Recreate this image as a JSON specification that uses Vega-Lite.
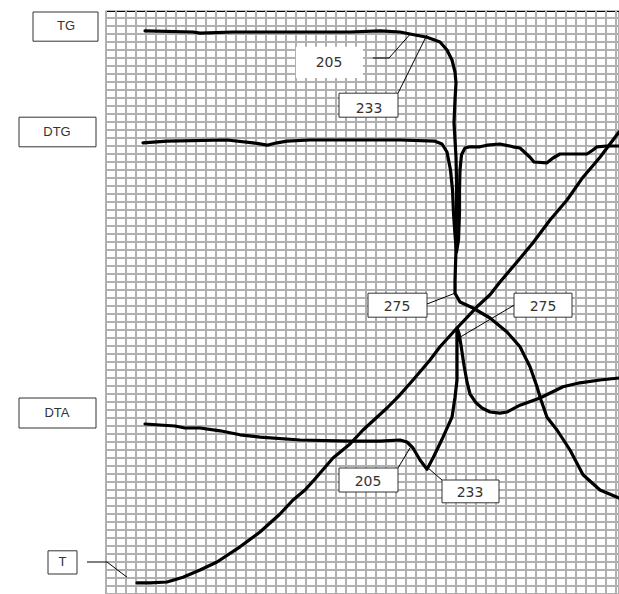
{
  "$schema": "https://vega.github.io/schema/vega-lite/v6.json",
  "width": 513,
  "height": 583,
  "autosize": {"type": "none"},
  "padding": {"left": 106, "top": 11, "right": 0, "bottom": 0},
  "background": "white",
  "config": {"view": {"stroke": "black", "strokeWidth": 1.2}},
  "datasets": {
    "gridx": [{"v":0},{"v":1},{"v":2},{"v":3},{"v":4},{"v":5},{"v":6},{"v":7},{"v":8},{"v":9},{"v":10},{"v":11},{"v":12},{"v":13},{"v":14},{"v":15},{"v":16},{"v":17},{"v":18},{"v":19},{"v":20},{"v":21},{"v":22},{"v":23},{"v":24},{"v":25},{"v":26},{"v":27},{"v":28},{"v":29},{"v":30},{"v":31},{"v":32},{"v":33},{"v":34},{"v":35},{"v":36},{"v":37},{"v":38},{"v":39},{"v":40},{"v":41},{"v":42},{"v":43},{"v":44},{"v":45},{"v":46},{"v":47},{"v":48},{"v":49},{"v":50},{"v":51}],
    "gridy": [{"v":0},{"v":1},{"v":2},{"v":3},{"v":4},{"v":5},{"v":6},{"v":7},{"v":8},{"v":9},{"v":10},{"v":11},{"v":12},{"v":13},{"v":14},{"v":15},{"v":16},{"v":17},{"v":18},{"v":19},{"v":20},{"v":21},{"v":22},{"v":23},{"v":24},{"v":25},{"v":26},{"v":27},{"v":28},{"v":29},{"v":30},{"v":31},{"v":32},{"v":33},{"v":34},{"v":35},{"v":36},{"v":37},{"v":38},{"v":39},{"v":40},{"v":41},{"v":42},{"v":43},{"v":44},{"v":45},{"v":46},{"v":47},{"v":48},{"v":49},{"v":50},{"v":51},{"v":52},{"v":53},{"v":54},{"v":55},{"v":56},{"v":57},{"v":58},{"v":59},{"v":60},{"v":61},{"v":62},{"v":63},{"v":64},{"v":65},{"v":66},{"v":67},{"v":68},{"v":69},{"v":70},{"v":71},{"v":72}],
    "curves": [
      {"s":"TG","i":0,"x":3.9,"y":70.4},{"s":"TG","i":1,"x":8.7,"y":70.25},{"s":"TG","i":2,"x":9.4,"y":70.1},{"s":"TG","i":3,"x":12.7,"y":70.25},{"s":"TG","i":4,"x":20.4,"y":70.25},{"s":"TG","i":5,"x":24.4,"y":70.25},{"s":"TG","i":6,"x":27.4,"y":70.4},{"s":"TG","i":7,"x":29.4,"y":70.25},{"s":"TG","i":8,"x":30.4,"y":70.0},{"s":"TG","i":9,"x":32.1,"y":69.6},{"s":"TG","i":10,"x":33.4,"y":69.0},{"s":"TG","i":11,"x":34.1,"y":68.0},{"s":"TG","i":12,"x":34.6,"y":66.75},{"s":"TG","i":13,"x":34.9,"y":65.25},{"s":"TG","i":14,"x":35.0,"y":63.9},{"s":"TG","i":15,"x":34.9,"y":61.75},{"s":"TG","i":16,"x":34.8,"y":58.9},{"s":"TG","i":17,"x":34.9,"y":56.75},{"s":"TG","i":18,"x":35.0,"y":54.6},{"s":"TG","i":19,"x":35.05,"y":51.75},{"s":"TG","i":20,"x":35.05,"y":48.0},{"s":"TG","i":21,"x":35.0,"y":43.0},{"s":"TG","i":22,"x":34.9,"y":39.25},{"s":"TG","i":23,"x":34.9,"y":37.6},{"s":"TG","i":24,"x":35.4,"y":36.5},{"s":"TG","i":25,"x":36.7,"y":35.75},{"s":"TG","i":26,"x":38.4,"y":34.5},{"s":"TG","i":27,"x":40.1,"y":32.75},{"s":"TG","i":28,"x":41.4,"y":30.9},{"s":"TG","i":29,"x":42.4,"y":28.4},{"s":"TG","i":30,"x":43.1,"y":25.9},{"s":"TG","i":31,"x":43.5,"y":24.25},{"s":"TG","i":32,"x":44.1,"y":22.1},{"s":"TG","i":33,"x":45.1,"y":20.5},{"s":"TG","i":34,"x":46.4,"y":18.0},{"s":"TG","i":35,"x":47.7,"y":14.9},{"s":"TG","i":36,"x":49.4,"y":13.0},{"s":"TG","i":37,"x":51.3,"y":12.0},
      {"s":"DTG","i":0,"x":3.7,"y":56.4},{"s":"DTG","i":1,"x":6.1,"y":56.6},{"s":"DTG","i":2,"x":12.1,"y":56.75},{"s":"DTG","i":3,"x":14.7,"y":56.4},{"s":"DTG","i":4,"x":16.1,"y":56.1},{"s":"DTG","i":5,"x":17.1,"y":56.4},{"s":"DTG","i":6,"x":18.1,"y":56.6},{"s":"DTG","i":7,"x":20.4,"y":56.75},{"s":"DTG","i":8,"x":29.4,"y":56.75},{"s":"DTG","i":9,"x":32.9,"y":56.6},{"s":"DTG","i":10,"x":33.6,"y":56.25},{"s":"DTG","i":11,"x":34.1,"y":55.25},{"s":"DTG","i":12,"x":34.45,"y":53.0},{"s":"DTG","i":13,"x":34.65,"y":50.5},{"s":"DTG","i":14,"x":34.75,"y":47.6},{"s":"DTG","i":15,"x":34.9,"y":44.9},{"s":"DTG","i":16,"x":35.05,"y":42.75},{"s":"DTG","i":17,"x":35.25,"y":44.25},{"s":"DTG","i":18,"x":35.35,"y":47.6},{"s":"DTG","i":19,"x":35.35,"y":50.5},{"s":"DTG","i":20,"x":35.4,"y":53.0},{"s":"DTG","i":21,"x":35.55,"y":54.9},{"s":"DTG","i":22,"x":35.9,"y":55.75},{"s":"DTG","i":23,"x":36.4,"y":55.9},{"s":"DTG","i":24,"x":37.4,"y":55.9},{"s":"DTG","i":25,"x":38.1,"y":56.1},{"s":"DTG","i":26,"x":39.4,"y":56.25},{"s":"DTG","i":27,"x":40.7,"y":55.9},{"s":"DTG","i":28,"x":41.4,"y":55.75},{"s":"DTG","i":29,"x":42.4,"y":54.6},{"s":"DTG","i":30,"x":42.8,"y":54.0},{"s":"DTG","i":31,"x":44.1,"y":53.9},{"s":"DTG","i":32,"x":44.7,"y":54.5},{"s":"DTG","i":33,"x":45.4,"y":55.0},{"s":"DTG","i":34,"x":48.1,"y":55.0},{"s":"DTG","i":35,"x":48.7,"y":55.5},{"s":"DTG","i":36,"x":49.1,"y":55.9},{"s":"DTG","i":37,"x":50.1,"y":56.0},{"s":"DTG","i":38,"x":51.3,"y":56.0},
      {"s":"DTA","i":0,"x":3.9,"y":21.25},{"s":"DTA","i":1,"x":6.9,"y":21.0},{"s":"DTA","i":2,"x":7.9,"y":20.75},{"s":"DTA","i":3,"x":9.4,"y":20.75},{"s":"DTA","i":4,"x":11.4,"y":20.4},{"s":"DTA","i":5,"x":13.4,"y":19.9},{"s":"DTA","i":6,"x":15.4,"y":19.6},{"s":"DTA","i":7,"x":19.4,"y":19.25},{"s":"DTA","i":8,"x":24.4,"y":19.1},{"s":"DTA","i":9,"x":27.4,"y":19.1},{"s":"DTA","i":10,"x":29.4,"y":19.25},{"s":"DTA","i":11,"x":30.1,"y":19.0},{"s":"DTA","i":12,"x":30.7,"y":18.25},{"s":"DTA","i":13,"x":31.4,"y":16.75},{"s":"DTA","i":14,"x":32.1,"y":15.6},{"s":"DTA","i":15,"x":32.7,"y":17.0},{"s":"DTA","i":16,"x":33.7,"y":19.6},{"s":"DTA","i":17,"x":34.6,"y":22.1},{"s":"DTA","i":18,"x":34.9,"y":24.6},{"s":"DTA","i":19,"x":35.1,"y":26.75},{"s":"DTA","i":20,"x":35.1,"y":30.5},{"s":"DTA","i":21,"x":35.1,"y":33.25},{"s":"DTA","i":22,"x":35.3,"y":32.6},{"s":"DTA","i":23,"x":35.5,"y":31.1},{"s":"DTA","i":24,"x":35.8,"y":28.6},{"s":"DTA","i":25,"x":36.1,"y":26.5},{"s":"DTA","i":26,"x":36.4,"y":25.0},{"s":"DTA","i":27,"x":37.0,"y":23.9},{"s":"DTA","i":28,"x":37.6,"y":23.25},{"s":"DTA","i":29,"x":38.4,"y":22.75},{"s":"DTA","i":30,"x":39.4,"y":22.6},{"s":"DTA","i":31,"x":40.1,"y":22.75},{"s":"DTA","i":32,"x":41.4,"y":23.6},{"s":"DTA","i":33,"x":43.4,"y":24.5},{"s":"DTA","i":34,"x":45.7,"y":25.9},{"s":"DTA","i":35,"x":47.4,"y":26.4},{"s":"DTA","i":36,"x":49.4,"y":26.75},{"s":"DTA","i":37,"x":51.3,"y":27.0},
      {"s":"T","i":0,"x":3.1,"y":1.4},{"s":"T","i":1,"x":4.4,"y":1.4},{"s":"T","i":2,"x":6.1,"y":1.5},{"s":"T","i":3,"x":7.7,"y":2.1},{"s":"T","i":4,"x":9.4,"y":3.0},{"s":"T","i":5,"x":11.1,"y":4.0},{"s":"T","i":6,"x":13.4,"y":5.9},{"s":"T","i":7,"x":15.4,"y":7.75},{"s":"T","i":8,"x":17.4,"y":10.0},{"s":"T","i":9,"x":18.7,"y":11.75},{"s":"T","i":10,"x":19.9,"y":13.0},{"s":"T","i":11,"x":20.7,"y":14.1},{"s":"T","i":12,"x":22.7,"y":17.0},{"s":"T","i":13,"x":24.4,"y":18.75},{"s":"T","i":14,"x":25.7,"y":20.5},{"s":"T","i":15,"x":28.1,"y":23.25},{"s":"T","i":16,"x":29.4,"y":24.9},{"s":"T","i":17,"x":30.7,"y":26.75},{"s":"T","i":18,"x":32.4,"y":29.25},{"s":"T","i":19,"x":33.4,"y":30.9},{"s":"T","i":20,"x":35.1,"y":33.25},{"s":"T","i":21,"x":37.1,"y":35.9},{"s":"T","i":22,"x":38.4,"y":37.4},{"s":"T","i":23,"x":39.4,"y":39.0},{"s":"T","i":24,"x":41.1,"y":41.5},{"s":"T","i":25,"x":42.7,"y":43.9},{"s":"T","i":26,"x":44.4,"y":46.75},{"s":"T","i":27,"x":46.1,"y":49.25},{"s":"T","i":28,"x":47.7,"y":52.1},{"s":"T","i":29,"x":49.4,"y":54.6},{"s":"T","i":30,"x":51.3,"y":57.75}
    ],
    "leaders": [
      {"id":"T","i":0,"x":-1.9,"y":4.0},{"id":"T","i":1,"x":0.1,"y":4.0},{"id":"T","i":2,"x":2.1,"y":2.1},
      {"id":"a205","i":0,"x":26.7,"y":67.0},{"id":"a205","i":1,"x":28.3,"y":67.0},{"id":"a205","i":2,"x":30.5,"y":70.1},
      {"id":"a233","i":0,"x":29.2,"y":62.6},{"id":"a233","i":1,"x":32.1,"y":69.9},
      {"id":"b275","i":0,"x":32.1,"y":36.25},{"id":"b275","i":1,"x":34.9,"y":37.6},
      {"id":"c275","i":0,"x":40.8,"y":36.1},{"id":"c275","i":1,"x":35.4,"y":32.1},
      {"id":"d205","i":0,"x":29.2,"y":15.75},{"id":"d205","i":1,"x":30.4,"y":18.25},
      {"id":"e233","i":0,"x":33.6,"y":14.25},{"id":"e233","i":1,"x":32.2,"y":15.75}
    ],
    "boxes": [
      {"x":-7.3,"x2":-0.8,"y":69.1,"y2":72.75},
      {"x":-8.7,"x2":-1.0,"y":55.9,"y2":59.6},
      {"x":-8.7,"x2":-1.0,"y":20.75,"y2":24.5},
      {"x":-5.8,"x2":-2.9,"y":2.5,"y2":5.4},
      {"x":23.3,"x2":29.2,"y":59.6,"y2":62.6},
      {"x":26.2,"x2":32.1,"y":34.6,"y2":37.6},
      {"x":40.8,"x2":46.6,"y":34.6,"y2":37.6},
      {"x":23.3,"x2":29.2,"y":12.75,"y2":15.75},
      {"x":33.6,"x2":39.3,"y":11.4,"y2":14.25}
    ],
    "whitebox": [
      {"x":19.0,"x2":25.7,"y":64.5,"y2":68.4}
    ],
    "names": [
      {"t":"TG","x":-4.0,"y":71.0},
      {"t":"DTG","x":-4.9,"y":57.75},
      {"t":"DTA","x":-4.9,"y":22.6},
      {"t":"T","x":-4.35,"y":3.95}
    ],
    "temps": [
      {"t":"205","x":22.3,"y":66.4},
      {"t":"233","x":26.3,"y":60.6},
      {"t":"275","x":29.1,"y":35.9},
      {"t":"275","x":43.7,"y":35.9},
      {"t":"205","x":26.2,"y":14.0},
      {"t":"233","x":36.4,"y":12.6}
    ]
  },
  "layer": [
    {
      "data": {"name": "gridx"},
      "mark": {"type": "rule", "color": "#b0b0b0", "strokeWidth": 2},
      "encoding": {
        "x": {"field": "v", "type": "quantitative", "scale": {"domain": [0, 51.3], "nice": false, "zero": false}, "axis": null}
      }
    },
    {
      "data": {"name": "gridy"},
      "mark": {"type": "rule", "color": "#b0b0b0", "strokeWidth": 2},
      "encoding": {
        "y": {"field": "v", "type": "quantitative", "scale": {"domain": [0, 72.875], "nice": false, "zero": false}, "axis": null}
      }
    },
    {
      "data": {"name": "curves"},
      "mark": {"type": "line", "color": "black", "strokeWidth": 3.2, "strokeJoin": "round", "strokeCap": "round", "interpolate": "linear"},
      "encoding": {
        "x": {"field": "x", "type": "quantitative", "scale": {"domain": [0, 51.3], "nice": false, "zero": false}, "axis": null},
        "y": {"field": "y", "type": "quantitative", "scale": {"domain": [0, 72.875], "nice": false, "zero": false}, "axis": null},
        "detail": {"field": "s"},
        "order": {"field": "i"}
      }
    },
    {
      "data": {"name": "whitebox"},
      "mark": {"type": "rect", "fill": "white"},
      "encoding": {
        "x": {"field": "x", "type": "quantitative", "scale": {"domain": [0, 51.3], "nice": false, "zero": false}, "axis": null},
        "x2": {"field": "x2"},
        "y": {"field": "y", "type": "quantitative", "scale": {"domain": [0, 72.875], "nice": false, "zero": false}, "axis": null},
        "y2": {"field": "y2"}
      }
    },
    {
      "data": {"name": "boxes"},
      "mark": {"type": "rect", "fill": "white", "stroke": "#333333", "strokeWidth": 1},
      "encoding": {
        "x": {"field": "x", "type": "quantitative", "scale": {"domain": [0, 51.3], "nice": false, "zero": false}, "axis": null},
        "x2": {"field": "x2"},
        "y": {"field": "y", "type": "quantitative", "scale": {"domain": [0, 72.875], "nice": false, "zero": false}, "axis": null},
        "y2": {"field": "y2"}
      }
    },
    {
      "data": {"name": "leaders"},
      "mark": {"type": "line", "color": "black", "strokeWidth": 1},
      "encoding": {
        "x": {"field": "x", "type": "quantitative", "scale": {"domain": [0, 51.3], "nice": false, "zero": false}, "axis": null},
        "y": {"field": "y", "type": "quantitative", "scale": {"domain": [0, 72.875], "nice": false, "zero": false}, "axis": null},
        "detail": {"field": "id"},
        "order": {"field": "i"}
      }
    },
    {
      "data": {"name": "names"},
      "mark": {"type": "text", "font": "Liberation Sans", "fontSize": 13, "color": "#333333", "align": "center", "baseline": "middle"},
      "encoding": {
        "x": {"field": "x", "type": "quantitative", "scale": {"domain": [0, 51.3], "nice": false, "zero": false}, "axis": null},
        "y": {"field": "y", "type": "quantitative", "scale": {"domain": [0, 72.875], "nice": false, "zero": false}, "axis": null},
        "text": {"field": "t"}
      }
    },
    {
      "data": {"name": "temps"},
      "mark": {"type": "text", "font": "DejaVu Sans", "fontSize": 14, "color": "#333333", "align": "center", "baseline": "middle"},
      "encoding": {
        "x": {"field": "x", "type": "quantitative", "scale": {"domain": [0, 51.3], "nice": false, "zero": false}, "axis": null},
        "y": {"field": "y", "type": "quantitative", "scale": {"domain": [0, 72.875], "nice": false, "zero": false}, "axis": null},
        "text": {"field": "t"}
      }
    }
  ]
}
